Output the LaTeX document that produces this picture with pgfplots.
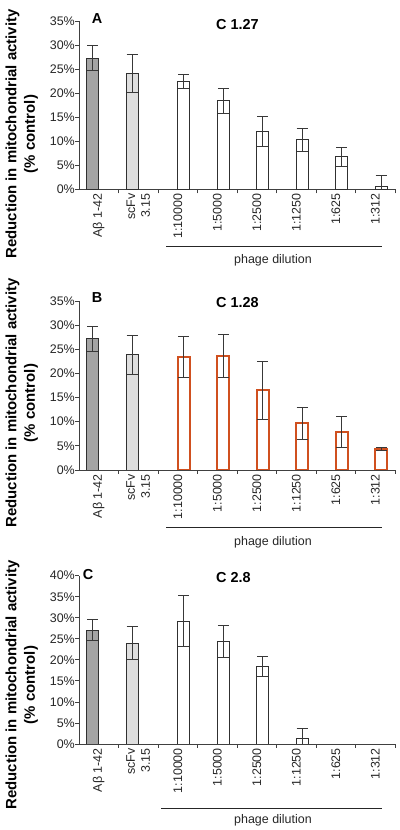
\documentclass[border=0pt]{standalone}
\usepackage{fontspec}
\setmainfont{Liberation Sans}
\usepackage{pgfplots}
\pgfplotsset{compat=1.18}
\definecolor{darkbar}{HTML}{A4A4A4}
\definecolor{lightbar}{HTML}{DEDEDE}
\definecolor{edgec}{HTML}{303030}
\definecolor{redge}{HTML}{D0501F}
\definecolor{errc}{HTML}{383838}
\pgfplotsset{
  panel/.style={
    scale only axis, width=316bp,
    xmin=-0.5, xmax=7.5, ymin=0,
    axis lines*=left,
    axis line style={color=black!75, line width=0.8pt},
    tick align=outside, major tick length=4bp, minor tick length=4bp,
    tick style={color=black!75, line width=0.8pt},
    xtick={0,...,7},
    major x tick style={draw=none},
    minor xtick={0.5,1.5,...,7.5},
    xticklabels={Aβ 1-42, {scFv\\3.15}, 1:10000, 1:5000, 1:2500, 1:1250, 1:625, 1:312},
    xticklabel style={rotate=90, anchor=east, inner sep=0pt, align=right,
      font=\fontsize{12.5}{15}\selectfont, text=black!85},
    yticklabel style={anchor=east, inner sep=0pt,
      font=\fontsize{12.5}{15}\selectfont, text=black!85},
  },
  bars/.style={ybar, bar width=12bp, bar shift=0pt, line width=0.9pt},
  eb/.style={error bars/.cd, y dir=both, y explicit,
    error bar style={errc, line width=0.8pt},
    error mark options={rotate=90, errc, line width=0.8pt, mark size=5.5bp}},
}
\begin{document}
\begin{tikzpicture}
\useasboundingbox (0,0) rectangle (400bp,830bp);
% ---------------- Panel A
\begin{axis}[panel, at={(79bp,640.5bp)}, anchor=south west, height=168.5bp,
  ymax=35, ytick={0,5,...,35},
  yticklabels={0\%,5\%,10\%,15\%,20\%,25\%,30\%,35\%}]
\addplot[bars, fill=darkbar, draw=edgec, eb]
  coordinates {(-0.152,27.3) +- (0,2.6)};
\addplot[bars, fill=lightbar, draw=edgec, eb]
  coordinates {(0.848,24.1) +- (0,4.0)};
\addplot[bars, fill=white, draw=edgec, eb]
  coordinates {(2.152,22.5) +- (0,1.4) (3.152,18.4) +- (0,2.5) (4.152,12.1) +- (0,3.1)
               (5.152,10.3) +- (0,2.4) (6.152,6.8) +- (0,2.0) (7.152,0.6) +- (0,2.3)};
\end{axis}
% ---------------- Panel B
\begin{axis}[panel, at={(79bp,360bp)}, anchor=south west, height=169bp,
  ymax=35, ytick={0,5,...,35},
  yticklabels={0\%,5\%,10\%,15\%,20\%,25\%,30\%,35\%}]
\addplot[bars, fill=darkbar, draw=edgec, eb]
  coordinates {(-0.152,27.2) +- (0,2.6)};
\addplot[bars, fill=lightbar, draw=edgec, eb]
  coordinates {(0.848,23.9) +- (0,4.0)};
\addplot[bars, fill=white, draw=redge, line width=1.8pt, eb]
  coordinates {(2.152,23.4) +- (0,4.2) (3.152,23.6) +- (0,4.4) (4.152,16.5) +- (0,6.0)
               (5.152,9.7) +- (0,3.3) (6.152,7.9) +- (0,3.2) (7.152,4.3) +- (0,0.3)};
\end{axis}
% ---------------- Panel C
\begin{axis}[panel, at={(79bp,86bp)}, anchor=south west, height=168.3bp,
  ymax=40, ytick={0,5,...,40},
  yticklabels={0\%,5\%,10\%,15\%,20\%,25\%,30\%,35\%,40\%}]
\addplot[bars, fill=darkbar, draw=edgec, eb]
  coordinates {(-0.152,27.1) +- (0,2.5)};
\addplot[bars, fill=lightbar, draw=edgec, eb]
  coordinates {(0.848,24.0) +- (0,4.0)};
\addplot[bars, fill=white, draw=edgec, eb]
  coordinates {(2.152,29.2) +- (0,6.0) (3.152,24.4) +- (0,3.7) (4.152,18.5) +- (0,2.4)
               (5.152,1.4) +- (0,2.2)};
\end{axis}
% ---------------- annotations
\tikzset{lab/.style={font=\bfseries\fontsize{14.5}{17}\selectfont, inner sep=0pt},
         ylab/.style={rotate=90, align=center, inner sep=0pt,
           font=\bfseries\fontsize{15}{18.5}\selectfont},
         pd/.style={font=\fontsize{12.5}{15}\selectfont, inner sep=0pt, text=black!85}}
\node[lab] at (97bp,811.5bp) {A};
\node[lab, anchor=west] at (216bp,805bp) {C 1.27};
\node[lab] at (97bp,532.5bp) {B};
\node[lab, anchor=west] at (216bp,527.5bp) {C 1.28};
\node[lab] at (88bp,255bp) {C};
\node[lab, anchor=west] at (216bp,252.7bp) {C 2.8};
\node[ylab] at (21.75bp,696bp) {Reduction in mitochondrial activity\\(\% control)};
\node[ylab] at (21.75bp,427bp) {Reduction in mitochondrial activity\\(\% control)};
\node[ylab] at (21.75bp,145bp) {Reduction in mitochondrial activity\\(\% control)};
\draw[black!85, line width=0.8pt] (166bp,584bp) -- (381.7bp,584bp);
\node[pd] at (273bp,570bp) {phage dilution};
\draw[black!85, line width=0.8pt] (166bp,302.3bp) -- (381.7bp,302.3bp);
\node[pd] at (273bp,288bp) {phage dilution};
\draw[black!85, line width=0.8pt] (161bp,21.7bp) -- (381.7bp,21.7bp);
\node[pd] at (273bp,10bp) {phage dilution};
\end{tikzpicture}
\end{document}
